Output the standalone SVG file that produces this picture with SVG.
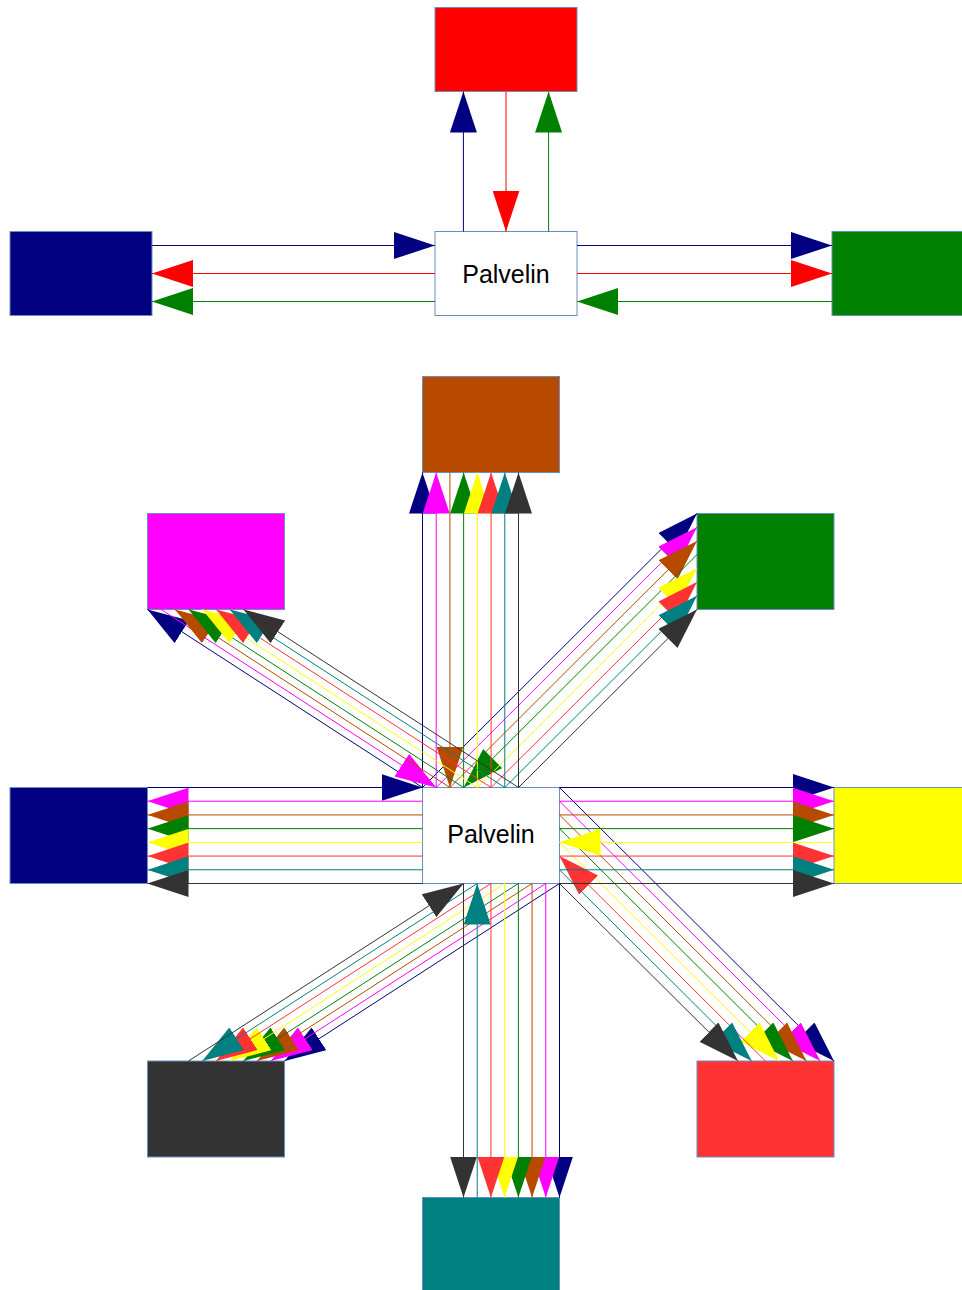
<svg xmlns="http://www.w3.org/2000/svg" width="962" height="1290" viewBox="0 0 962 1290">
<style>
.box{stroke:#6C8EBF;stroke-width:1}
.srv{fill:#FFFFFF;stroke:#6C8EBF;stroke-width:1}
.lbl{font-family:"Liberation Sans",Arial,sans-serif;font-size:25px;fill:#000000;text-anchor:middle}
line{stroke-width:1;fill:none}
.c0{stroke:#000080;marker-end:url(#a0)}
.c1{stroke:#FF00FF;marker-end:url(#a1)}
.c2{stroke:#B84A00;marker-end:url(#a2)}
.c3{stroke:#008000;marker-end:url(#a3)}
.c4{stroke:#FFFF00;marker-end:url(#a4)}
.c5{stroke:#FF3333;marker-end:url(#a5)}
.c6{stroke:#008080;marker-end:url(#a6)}
.c7{stroke:#333333;marker-end:url(#a7)}
.cr{stroke:#FF0000;marker-end:url(#ar)}
</style>
<defs>
<marker id="a0" markerUnits="userSpaceOnUse" markerWidth="41" markerHeight="27" refX="41" refY="13.5" orient="auto"><path d="M0,0 L41,13.5 L0,27 Z" fill="#000080"/></marker>
<marker id="a1" markerUnits="userSpaceOnUse" markerWidth="41" markerHeight="27" refX="41" refY="13.5" orient="auto"><path d="M0,0 L41,13.5 L0,27 Z" fill="#FF00FF"/></marker>
<marker id="a2" markerUnits="userSpaceOnUse" markerWidth="41" markerHeight="27" refX="41" refY="13.5" orient="auto"><path d="M0,0 L41,13.5 L0,27 Z" fill="#B84A00"/></marker>
<marker id="a3" markerUnits="userSpaceOnUse" markerWidth="41" markerHeight="27" refX="41" refY="13.5" orient="auto"><path d="M0,0 L41,13.5 L0,27 Z" fill="#008000"/></marker>
<marker id="a4" markerUnits="userSpaceOnUse" markerWidth="41" markerHeight="27" refX="41" refY="13.5" orient="auto"><path d="M0,0 L41,13.5 L0,27 Z" fill="#FFFF00"/></marker>
<marker id="a5" markerUnits="userSpaceOnUse" markerWidth="41" markerHeight="27" refX="41" refY="13.5" orient="auto"><path d="M0,0 L41,13.5 L0,27 Z" fill="#FF3333"/></marker>
<marker id="a6" markerUnits="userSpaceOnUse" markerWidth="41" markerHeight="27" refX="41" refY="13.5" orient="auto"><path d="M0,0 L41,13.5 L0,27 Z" fill="#008080"/></marker>
<marker id="a7" markerUnits="userSpaceOnUse" markerWidth="41" markerHeight="27" refX="41" refY="13.5" orient="auto"><path d="M0,0 L41,13.5 L0,27 Z" fill="#333333"/></marker>
<marker id="ar" markerUnits="userSpaceOnUse" markerWidth="41" markerHeight="27" refX="41" refY="13.5" orient="auto"><path d="M0,0 L41,13.5 L0,27 Z" fill="#FF0000"/></marker>
</defs>

<!-- Top diagram nodes -->
<g id="top-red"><rect class="box" x="435" y="7.5" width="142" height="84" fill="#FF0000"/></g>
<g id="top-navy"><rect class="box" x="10" y="231.5" width="142" height="84" fill="#000080"/></g>
<g id="top-green"><rect class="box" x="832" y="231.5" width="142" height="84" fill="#008000"/></g>
<g id="top-palvelin"><rect class="srv" x="435" y="231.5" width="142" height="84"/><text class="lbl" x="506" y="283.3">Palvelin</text></g>

<!-- Bottom diagram nodes -->
<g id="n-navy"><rect class="box" x="10" y="787.5" width="137.5" height="96" fill="#000080"/></g>
<g id="n-magenta"><rect class="box" x="147.5" y="513.5" width="137" height="96" fill="#FF00FF"/></g>
<g id="n-brown"><rect class="box" x="422.5" y="376.5" width="137" height="96" fill="#B84A00"/></g>
<g id="n-green"><rect class="box" x="697" y="513.5" width="137" height="96" fill="#008000"/></g>
<g id="n-yellow"><rect class="box" x="834" y="787.5" width="137" height="96" fill="#FFFF00"/></g>
<g id="n-red"><rect class="box" x="697" y="1061" width="137" height="96" fill="#FF3333"/></g>
<g id="n-teal"><rect class="box" x="422.5" y="1197.5" width="137" height="96" fill="#008080"/></g>
<g id="n-darkgray"><rect class="box" x="147.5" y="1061" width="137" height="96" fill="#333333"/></g>
<g id="palvelin"><rect class="srv" x="422.5" y="787.5" width="137" height="96"/><text class="lbl" x="491" y="843.3">Palvelin</text></g>

<g id="connectors">
<!-- top diagram -->
<line class="c0" x1="152" y1="245.5" x2="435" y2="245.5"/>
<line class="c0" x1="463.4" y1="231.5" x2="463.4" y2="91.5"/>
<line class="c0" x1="577" y1="245.5" x2="832" y2="245.5"/>
<line class="cr" x1="506" y1="91.5" x2="506" y2="231.5"/>
<line class="cr" x1="435" y1="273.5" x2="152" y2="273.5"/>
<line class="cr" x1="577" y1="273.5" x2="832" y2="273.5"/>
<line class="c3" x1="832" y1="301.5" x2="577" y2="301.5"/>
<line class="c3" x1="435" y1="301.5" x2="152" y2="301.5"/>
<line class="c3" x1="548.6" y1="231.5" x2="548.6" y2="91.5"/>

<!-- bottom diagram: navy -->
<line class="c0" x1="147.5" y1="787.5" x2="422.5" y2="787.5"/>
<line class="c0" x1="422.5" y1="787.5" x2="147.5" y2="609.5"/>
<line class="c0" x1="422.5" y1="787.5" x2="422.5" y2="472.5"/>
<line class="c0" x1="422.5" y1="787.5" x2="697" y2="513.5"/>
<line class="c0" x1="559.5" y1="787.5" x2="834" y2="787.5"/>
<line class="c0" x1="559.5" y1="787.5" x2="834" y2="1061"/>
<line class="c0" x1="559.5" y1="883.5" x2="559.5" y2="1197.5"/>
<line class="c0" x1="559.5" y1="883.5" x2="284.5" y2="1061"/>
<!-- magenta -->
<line class="c1" x1="161.21" y1="609.5" x2="436.21" y2="787.5"/>
<line class="c1" x1="422.5" y1="801.21" x2="147.5" y2="801.21"/>
<line class="c1" x1="436.21" y1="787.5" x2="436.21" y2="472.5"/>
<line class="c1" x1="436.21" y1="787.5" x2="697" y2="527.21"/>
<line class="c1" x1="559.5" y1="801.21" x2="834" y2="801.21"/>
<line class="c1" x1="559.5" y1="801.21" x2="820.29" y2="1061"/>
<line class="c1" x1="545.79" y1="883.5" x2="545.79" y2="1197.5"/>
<line class="c1" x1="545.79" y1="883.5" x2="270.79" y2="1061"/>
<!-- brown -->
<line class="c2" x1="449.93" y1="472.5" x2="449.93" y2="787.5"/>
<line class="c2" x1="422.5" y1="814.93" x2="147.5" y2="814.93"/>
<line class="c2" x1="449.93" y1="787.5" x2="174.93" y2="609.5"/>
<line class="c2" x1="449.93" y1="787.5" x2="697" y2="540.93"/>
<line class="c2" x1="559.5" y1="814.93" x2="834" y2="814.93"/>
<line class="c2" x1="559.5" y1="814.93" x2="806.57" y2="1061"/>
<line class="c2" x1="532.07" y1="883.5" x2="532.07" y2="1197.5"/>
<line class="c2" x1="532.07" y1="883.5" x2="257.07" y2="1061"/>
<!-- green -->
<line class="c3" x1="697" y1="554.64" x2="463.64" y2="787.5"/>
<line class="c3" x1="422.5" y1="828.64" x2="147.5" y2="828.64"/>
<line class="c3" x1="463.64" y1="787.5" x2="188.64" y2="609.5"/>
<line class="c3" x1="463.64" y1="787.5" x2="463.64" y2="472.5"/>
<line class="c3" x1="559.5" y1="828.64" x2="834" y2="828.64"/>
<line class="c3" x1="559.5" y1="828.64" x2="792.86" y2="1061"/>
<line class="c3" x1="518.36" y1="883.5" x2="518.36" y2="1197.5"/>
<line class="c3" x1="518.36" y1="883.5" x2="243.36" y2="1061"/>
<!-- yellow -->
<line class="c4" x1="834" y1="842.36" x2="559.5" y2="842.36"/>
<line class="c4" x1="422.5" y1="842.36" x2="147.5" y2="842.36"/>
<line class="c4" x1="477.36" y1="787.5" x2="202.36" y2="609.5"/>
<line class="c4" x1="477.36" y1="787.5" x2="477.36" y2="472.5"/>
<line class="c4" x1="477.36" y1="787.5" x2="697" y2="568.36"/>
<line class="c4" x1="559.5" y1="842.36" x2="779.14" y2="1061"/>
<line class="c4" x1="504.64" y1="883.5" x2="504.64" y2="1197.5"/>
<line class="c4" x1="504.64" y1="883.5" x2="229.64" y2="1061"/>
<!-- red -->
<line class="c5" x1="765.43" y1="1061" x2="559.5" y2="856.07"/>
<line class="c5" x1="422.5" y1="856.07" x2="147.5" y2="856.07"/>
<line class="c5" x1="491.07" y1="787.5" x2="216.07" y2="609.5"/>
<line class="c5" x1="491.07" y1="787.5" x2="491.07" y2="472.5"/>
<line class="c5" x1="491.07" y1="787.5" x2="697" y2="582.07"/>
<line class="c5" x1="559.5" y1="856.07" x2="834" y2="856.07"/>
<line class="c5" x1="490.93" y1="883.5" x2="490.93" y2="1197.5"/>
<line class="c5" x1="490.93" y1="883.5" x2="215.93" y2="1061"/>
<!-- teal -->
<line class="c6" x1="477.21" y1="1197.5" x2="477.21" y2="883.5"/>
<line class="c6" x1="422.5" y1="869.79" x2="147.5" y2="869.79"/>
<line class="c6" x1="504.79" y1="787.5" x2="229.79" y2="609.5"/>
<line class="c6" x1="504.79" y1="787.5" x2="504.79" y2="472.5"/>
<line class="c6" x1="504.79" y1="787.5" x2="697" y2="595.79"/>
<line class="c6" x1="559.5" y1="869.79" x2="834" y2="869.79"/>
<line class="c6" x1="559.5" y1="869.79" x2="751.71" y2="1061"/>
<line class="c6" x1="477.21" y1="883.5" x2="202.21" y2="1061"/>
<!-- dark gray -->
<line class="c7" x1="188.5" y1="1061" x2="463.5" y2="883.5"/>
<line class="c7" x1="422.5" y1="883.5" x2="147.5" y2="883.5"/>
<line class="c7" x1="518.5" y1="787.5" x2="243.5" y2="609.5"/>
<line class="c7" x1="518.5" y1="787.5" x2="518.5" y2="472.5"/>
<line class="c7" x1="518.5" y1="787.5" x2="697" y2="609.5"/>
<line class="c7" x1="559.5" y1="883.5" x2="834" y2="883.5"/>
<line class="c7" x1="559.5" y1="883.5" x2="738" y2="1061"/>
<line class="c7" x1="463.5" y1="883.5" x2="463.5" y2="1197.5"/>
</g>
</svg>
